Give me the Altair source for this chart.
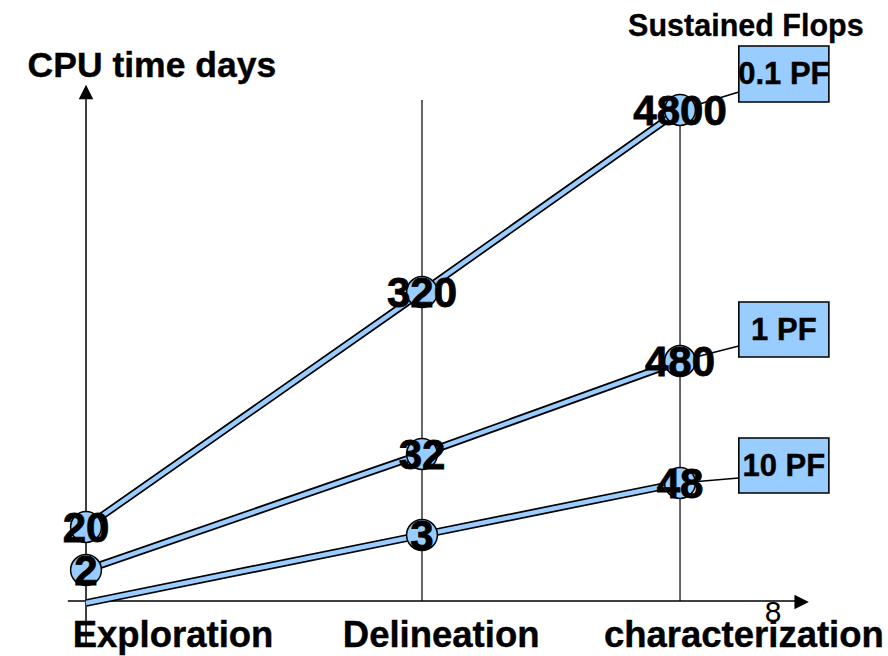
import altair as alt
import pandas as pd

# ---- data -------------------------------------------------------------
stages = ["Exploration", "Delineation", "characterization"]
stage_pos = [0.0, 1.0, 1.768]                  # schematic stage position
series = ["0.1 PF", "1 PF", "10 PF"]
cpu_days = {
    "0.1 PF": [20, 320, 4800],
    "1 PF": [2, 32, 480],
    "10 PF": [None, 3, 48],
}
# schematic height of each point above the time axis (diagram is not to scale)
level = {
    "0.1 PF": [74, 309, 491],
    "1 PF": [31, 147, 240],
    "10 PF": [-2, 66, 118],
}
legend_title = "Sustained Flops"
y_title = "CPU time days"

# ---- layout (not data) -------------------------------------------------
BLUE = "#99CCFF"
FONT = "Liberation Sans"
box_x = (1.943, 2.211)
box_y = {"0.1 PF": (499, 555), "1 PF": (244, 299), "10 PF": (108, 163)}
conn_y = {"0.1 PF": 509, "1 PF": 255, "10 PF": 123}

rows = []
for s in series:
    for st, xp, v, lv in zip(stages, stage_pos, cpu_days[s], level[s]):
        rows.append({"series": s, "stage": st, "x": xp, "lv": lv,
                     "val": "" if v is None else str(v), "has": v is not None})
pts = pd.DataFrame(rows)

xs = alt.Scale(domain=[-0.256, 2.387], nice=False, zero=False)
ys = alt.Scale(domain=[-55, 601], nice=False, zero=False)
X = lambda f="x": alt.X(f"{f}:Q", scale=xs, axis=None)
Y = lambda f="lv": alt.Y(f"{f}:Q", scale=ys, axis=None)

# vertical stage guides
guides = pd.DataFrame({"x": stage_pos[1:], "y0": [0, 0], "y1": [501, 490]})
guide_layer = alt.Chart(guides).mark_rule(color="black", strokeWidth=1.2).encode(
    x=X(), y=Y("y0"), y2="y1:Q")

# axes
yaxis = alt.Chart(pd.DataFrame({"x": [0], "y0": [-44], "y1": [505]})).mark_rule(
    color="black", strokeWidth=1.5).encode(x=X(), y=Y("y0"), y2="y1:Q")
xaxis = alt.Chart(pd.DataFrame({"x0": [-0.054], "x1": [2.12], "y": [0]})).mark_rule(
    color="black", strokeWidth=1.5).encode(x=X("x0"), x2="x1:Q", y=Y("y"))
arrow_up = alt.Chart(pd.DataFrame({"x": [0], "y": [509]})).mark_point(
    shape="M-1,1L1,1L0,-1Z", size=210, filled=True, color="black", opacity=1
).encode(x=X(), y=Y("y"))
arrow_right = alt.Chart(pd.DataFrame({"x": [2.13], "y": [-1]})).mark_point(
    shape="M-1,-1L1,0L-1,1Z", size=210, filled=True, color="black", opacity=1
).encode(x=X(), y=Y("y"))

# connectors to the legend boxes
last = pts[pts["stage"] == stages[-1]].set_index("series")
conn = pd.DataFrame({
    "series": series,
    "x0": [stage_pos[-1]] * 3,
    "y0": [last.loc[s, "lv"] for s in series],
    "x1": [box_x[0]] * 3,
    "y1": [conn_y[s] for s in series],
})
conn_layer = alt.Chart(conn).mark_rule(color="black", strokeWidth=1.6).encode(
    x=X("x0"), x2="x1:Q", y=Y("y0"), y2="y1:Q")

# series bands (black outline + light blue fill)
line_out = alt.Chart(pts).mark_line(color="black", strokeWidth=7.8, strokeCap="butt").encode(
    x=X(), y=Y(), detail="series:N", order="x:Q")
line_in = alt.Chart(pts).mark_line(color=BLUE, strokeWidth=4.4, strokeCap="butt").encode(
    x=X(), y=Y(), detail="series:N", order="x:Q")

marked = pts[pts["has"]]
circles = alt.Chart(marked).mark_point(
    shape="circle", size=950, filled=True, fill=BLUE, stroke="black",
    strokeWidth=1.5, opacity=1, fillOpacity=1
).encode(x=X(), y=Y())
values = alt.Chart(marked).mark_text(
    font=FONT, fontSize=42, fontWeight="bold", color="black",
    stroke="black", strokeWidth=0.8, baseline="middle", dy=2
).encode(x=X(), y=Y(), text="val:N")

# legend boxes
boxes = pd.DataFrame({
    "series": series,
    "x0": [box_x[0]] * 3, "x1": [box_x[1]] * 3,
    "y0": [box_y[s][0] for s in series], "y1": [box_y[s][1] for s in series],
    "xc": [(box_x[0] + box_x[1]) / 2] * 3,
    "yc": [(box_y[s][0] + box_y[s][1]) / 2 for s in series],
})
box_layer = alt.Chart(boxes).mark_rect(fill=BLUE, stroke="black", strokeWidth=1.6).encode(
    x=X("x0"), x2="x1:Q", y=Y("y0"), y2="y1:Q")
box_text = alt.Chart(boxes).mark_text(
    font=FONT, fontSize=31, fontWeight="bold", color="black",
    stroke="black", strokeWidth=0.4, baseline="middle", dy=1
).encode(x=X("xc"), y=Y("yc"), text="series:N")

# stage labels and titles
stage_lab = pd.DataFrame({"text": stages, "x": [0.259, 1.057, 1.958], "y": [-35] * 3})
stage_layer = alt.Chart(stage_lab).mark_text(
    font=FONT, fontSize=36.5, fontWeight="bold", color="black",
    stroke="black", strokeWidth=0.4, baseline="middle"
).encode(x=X(), y=Y("y"), text="text:N")

titles = pd.DataFrame({
    "text": [y_title, legend_title],
    "x": [0.196, 1.964],
    "y": [524, 565],
})
title_y = alt.Chart(titles.iloc[[0]]).mark_text(
    font=FONT, fontSize=35.5, fontWeight="bold", color="black",
    stroke="black", strokeWidth=0.4, baseline="alphabetic"
).encode(x=X(), y=Y("y"), text="text:N")
title_leg = alt.Chart(titles.iloc[[1]]).mark_text(
    font=FONT, fontSize=30.5, fontWeight="bold", color="black",
    stroke="black", strokeWidth=0.3, baseline="alphabetic"
).encode(x=X(), y=Y("y"), text="text:N")

eight = alt.Chart(pd.DataFrame({"t": ["8"], "x": [2.045], "y": [-12]})).mark_text(
    font=FONT, fontSize=30, color="black", baseline="middle"
).encode(x=X(), y=Y("y"), text="t:N")

chart = alt.layer(
    guide_layer, yaxis, xaxis, arrow_up, arrow_right, conn_layer,
    line_out, line_in, circles, values, box_layer, box_text,
    stage_layer, title_y, title_leg, eight
).properties(
    width=888, height=656, padding=0,
    autosize=alt.AutoSizeParams(type="none"),
    background="white",
).configure_view(stroke=None)

chart.save("out.html", embed_options={"renderer": "svg", "actions": False})
